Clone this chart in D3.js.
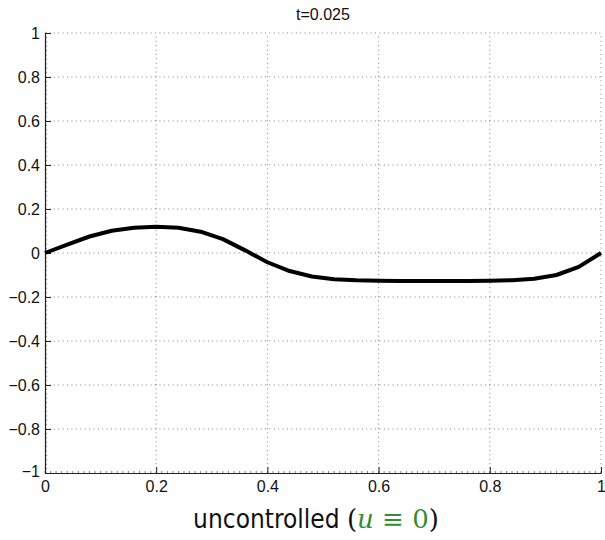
<!DOCTYPE html>
<html>
<head>
<meta charset="utf-8">
<script src="https://cdn.jsdelivr.net/npm/d3@7"></script>
<style>
  body { margin: 0; background: white; }
  svg { display: block; }
</style>
</head>
<body>
<svg id="chart"></svg>
<script>
// values (t = 0.025, uncontrolled)
const xs = [0, 0.04, 0.08, 0.12, 0.16, 0.2, 0.24, 0.28, 0.32, 0.36, 0.4, 0.44, 0.48,
  0.52, 0.56, 0.6, 0.64, 0.68, 0.72, 0.76, 0.8, 0.84, 0.88, 0.92, 0.96, 1];
const ys = [0, 0.038, 0.075, 0.101, 0.115, 0.119, 0.115, 0.097, 0.063, 0.012, -0.042, -0.082, -0.107,
  -0.119, -0.124, -0.126, -0.127, -0.127, -0.127, -0.127, -0.126, -0.124, -0.117, -0.100, -0.063, 0];
const xTicks = [0, 0.2, 0.4, 0.6, 0.8, 1];
const yTicks = [-1, -0.8, -0.6, -0.4, -0.2, 0, 0.2, 0.4, 0.6, 0.8, 1];
const titleText = "t=0.025";

const width = 605, height = 540;
const margin = { top: 33, right: 4, bottom: 67, left: 45 };

const svg = d3.select("#chart")
  .attr("width", width)
  .attr("height", height);

const x = d3.scaleLinear().domain([0, 1]).range([margin.left, width - margin.right]);
const y = d3.scaleLinear().domain([-1, 1]).range([height - margin.bottom, margin.top]);

const fmt = d => (d < 0 ? "\u2212" : "") + String(Math.abs(d));

// dotted grid
svg.append("g")
  .selectAll("line")
  .data(xTicks.filter(d => d > 0))
  .join("line")
  .attr("x1", d => x(d)).attr("x2", d => x(d))
  .attr("y1", y(-1)).attr("y2", y(1))
  .attr("stroke", "#808080")
  .attr("stroke-width", 1)
  .attr("stroke-dasharray", "1,3.4");

svg.append("g")
  .selectAll("line")
  .data(yTicks.filter(d => d > -1))
  .join("line")
  .attr("x1", x(0)).attr("x2", x(1))
  .attr("y1", d => y(d)).attr("y2", d => y(d))
  .attr("stroke", "#808080")
  .attr("stroke-width", 1)
  .attr("stroke-dasharray", "1,3.4");

// minor ticks (inward)
const xMinor = d3.range(0, 101).map(i => i / 100);
const yMinor = d3.range(0, 101).map(i => -1 + i / 50);

svg.append("g")
  .selectAll("line")
  .data(xMinor)
  .join("line")
  .attr("x1", d => x(d)).attr("x2", d => x(d))
  .attr("y1", y(-1)).attr("y2", y(-1) - 2)
  .attr("stroke", "#666")
  .attr("stroke-width", 0.8);

svg.append("g")
  .selectAll("line")
  .data(yMinor)
  .join("line")
  .attr("x1", x(0)).attr("x2", x(0) + 2)
  .attr("y1", d => y(d)).attr("y2", d => y(d))
  .attr("stroke", "#666")
  .attr("stroke-width", 0.8);

// axes
const xAxis = d3.axisBottom(x).tickValues(xTicks).tickFormat(fmt).tickSizeInner(-6).tickSizeOuter(0).tickPadding(10);
const yAxis = d3.axisLeft(y).tickValues(yTicks).tickFormat(fmt).tickSizeInner(-6).tickSizeOuter(0).tickPadding(5);

const gx = svg.append("g")
  .attr("transform", `translate(0,${y(-1)})`)
  .call(xAxis);
const gy = svg.append("g")
  .attr("transform", `translate(${x(0)},0)`)
  .call(yAxis);

[gx, gy].forEach(g => {
  g.selectAll(".domain").attr("stroke", "#222").attr("stroke-width", 1.2);
  g.selectAll(".tick line").attr("stroke", "#222").attr("stroke-width", 1);
  g.selectAll(".tick text")
    .attr("fill", "#111")
    .style("font-family", "'Liberation Sans', Arial, sans-serif")
    .style("font-size", "16px");
});
gx.selectAll(".tick text").attr("dy", "0.55em");
gy.selectAll(".tick text").filter(d => d === -1).attr("dy", "0.2em");

// curve
const line = d3.line()
  .x((d, i) => x(xs[i]))
  .y(d => y(d));

svg.append("path")
  .datum(ys)
  .attr("d", line)
  .attr("fill", "none")
  .attr("stroke", "#000")
  .attr("stroke-width", 4)
  .attr("stroke-linejoin", "round");

// title
svg.append("text")
  .attr("x", (x(0) + x(1)) / 2)
  .attr("y", 20)
  .attr("text-anchor", "middle")
  .style("font-family", "'Liberation Sans', Arial, sans-serif")
  .style("font-size", "16px")
  .attr("fill", "#111")
  .text(titleText);

// x label
const lab = svg.append("text")
  .attr("x", 316)
  .attr("y", 528)
  .attr("text-anchor", "middle")
  .style("font-size", "26px")
  .attr("fill", "#111");
lab.append("tspan")
  .style("font-family", "'DejaVu Sans Condensed', 'DejaVu Sans', sans-serif")
  .text("uncontrolled ");
lab.append("tspan")
  .style("font-family", "'DejaVu Serif', serif")
  .text("(");
lab.append("tspan")
  .style("font-family", "'DejaVu Serif', serif")
  .style("font-style", "italic")
  .attr("fill", "#2f8f2f")
  .text("u");
lab.append("tspan")
  .style("font-family", "'DejaVu Serif', serif")
  .attr("fill", "#2f8f2f")
  .text(" \u2261 0");
lab.append("tspan")
  .style("font-family", "'DejaVu Serif', serif")
  .text(")");
</script>
</body>
</html>
